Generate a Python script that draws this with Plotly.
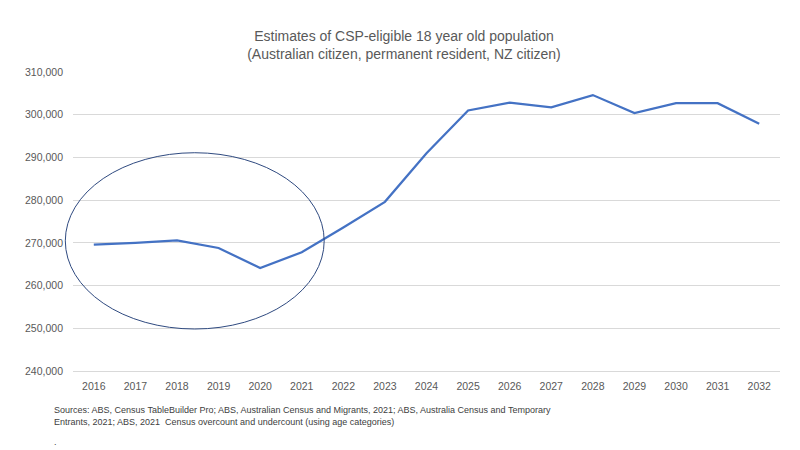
import plotly.graph_objects as go

years = [str(y) for y in range(2016, 2033)]
population = [269600, 270000, 270600, 268800, 264100, 267800, 273600, 279600,
              291000, 301000, 302800, 301700, 304600, 300400, 302700, 302700, 297900]
y_ticks = [240000, 250000, 260000, 270000, 280000, 290000, 300000, 310000]

title_text = ("Estimates of CSP-eligible 18 year old population<br>"
              "(Australian citizen, permanent resident, NZ citizen)")
source_text = ("Sources: ABS, Census TableBuilder Pro; ABS, Australian Census and Migrants, 2021; "
               "ABS, Australia Census and Temporary<br>Entrants, 2021; ABS, 2021  Census overcount "
               "and undercount (using age categories)")

Y_MIN, Y_MAX = 240000, 310000
N = len(years)

# highlight ellipse bounds (category index / value units)
ell_x = [-0.685, 5.54]
ell_y = [249830, 291100]

def xpaper(i):
    return (i + 0.5) / N

def ypaper(v):
    return (v - Y_MIN) / (Y_MAX - Y_MIN)

fig = go.Figure()
fig.add_trace(go.Scatter(x=years, y=population, mode="lines",
                         line=dict(color="#4472C4", width=2.25), showlegend=False))

fig.update_layout(
    width=792, height=442,
    margin=dict(l=65, r=20, t=64, b=79),
    paper_bgcolor="white", plot_bgcolor="white",
    font=dict(family="Liberation Sans", color="#595959"),
    title=dict(text=title_text, x=0.5, xanchor="center", y=0.925, yanchor="top",
               font=dict(size=14, color="#595959")),
    xaxis=dict(type="category", range=[-0.5, N - 0.5], showgrid=False,
               showline=True, linecolor="#D9D9D9", linewidth=1,
               tickfont=dict(size=10.5, color="#595959"), ticks="",
               ticklabelstandoff=5),
    yaxis=dict(range=[Y_MIN, Y_MAX], tickvals=y_ticks, tickformat=",",
               showgrid=True, gridcolor="#D9D9D9", gridwidth=1, zeroline=False,
               tickfont=dict(size=10.5, color="#595959"), ticks="",
               ticklabelstandoff=9),
)

fig.add_shape(type="circle", xref="paper", yref="paper",
              x0=xpaper(ell_x[0]), x1=xpaper(ell_x[1]),
              y0=ypaper(ell_y[0]), y1=ypaper(ell_y[1]),
              line=dict(color="#2F4A80", width=1), fillcolor="rgba(0,0,0,0)")

fig.add_annotation(text=source_text, xref="paper", yref="paper", x=-0.03, y=-0.108,
                   xanchor="left", yanchor="top", showarrow=False, align="left",
                   font=dict(size=9, color="#404040"))
fig.add_annotation(text=".", xref="paper", yref="paper", x=-0.03, y=-0.262,
                   xanchor="left", yanchor="bottom", showarrow=False,
                   font=dict(size=9, color="#404040"))

fig.write_html("out.html")
